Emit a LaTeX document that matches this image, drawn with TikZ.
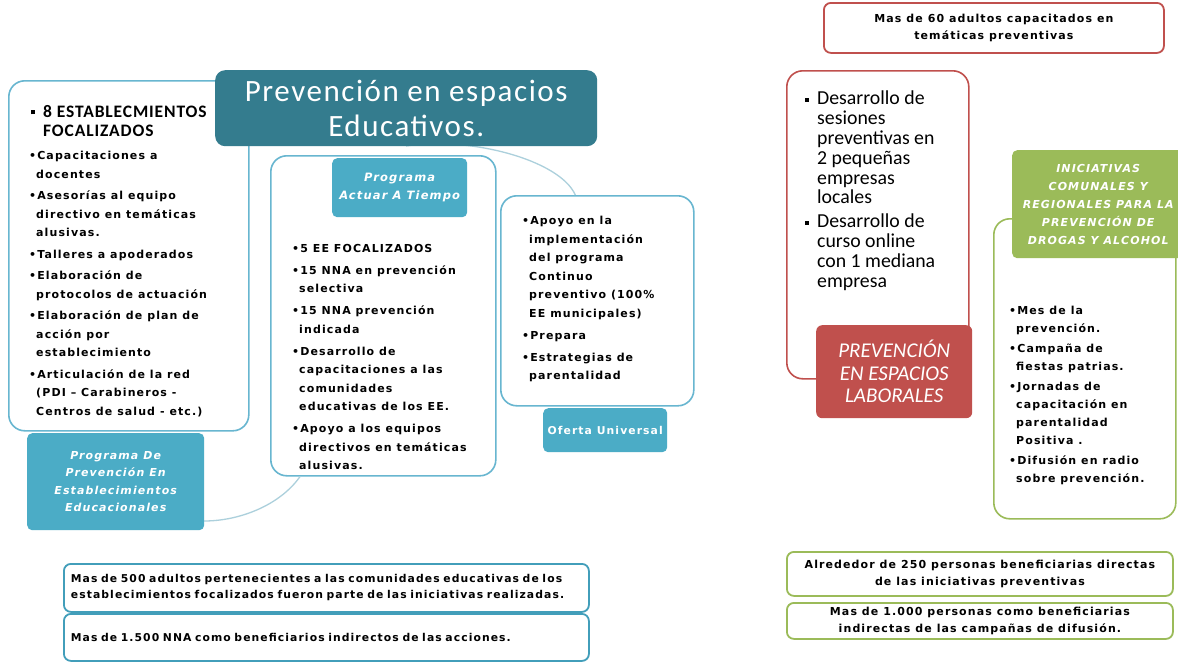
\documentclass[tikz,border=0pt]{standalone}
\usepackage{fontspec}
\setmainfont{Carlito}
\newfontfamily\smallfont[LetterSpace=10]{DejaVu Sans}
\newfontfamily\widefont[LetterSpace=5]{Carlito}

\usetikzlibrary{positioning}

\definecolor{titleteal}{RGB}{52,124,142}
\definecolor{skyblue}{RGB}{75,172,198}
\definecolor{noteblue}{RGB}{66,158,186}
\definecolor{frameblue}{RGB}{104,182,208}
\definecolor{linkblue}{RGB}{172,208,220}
\definecolor{brickred}{RGB}{192,80,77}
\definecolor{olivegreen}{RGB}{155,187,89}

\newcommand{\dotb}{\textbullet}
\newcommand{\ind}{\phantom{\textbullet}}
\newcommand{\sqb}{\raisebox{3pt}{\rule{4pt}{4pt}}\hspace{8pt}}

\tikzset{
  panel/.style={draw=frameblue, line width=1.6pt, rounded corners=16pt, inner sep=0pt, anchor=north west},
  tag/.style={fill=skyblue, rounded corners=5pt, text=white, align=center, inner sep=0pt, anchor=north west,
    font={\smallfont\bfseries\itshape\fontsize{11}{17.5}\selectfont}},
  items/.style={anchor=north west, align=left, inner sep=0pt,
    font={\smallfont\bfseries\fontsize{11}{18.5}\selectfont}},
  note/.style={draw=#1, line width=1.8pt, rounded corners=7pt, inner sep=0pt, anchor=north west, align=center,
    font={\smallfont\bfseries\fontsize{11}{17}\selectfont}},
  link/.style={draw=linkblue, line width=1.3pt}
}

\begin{document}
\begin{tikzpicture}[x=1pt,y=-1pt]
\useasboundingbox[fill=white] (0,0) rectangle (1178,662);

% educational side
\node[panel, minimum width=240pt, minimum height=350pt] (estabPanel) at (8,80) {};
\node[panel, minimum width=225pt, minimum height=320pt] (actuarPanel) at (270,155) {};
\node[panel, minimum width=193pt, minimum height=210pt] (ofertaPanel) at (500,195) {};

\draw[link] (406,146) .. controls (470,136) and (560,160) .. ([xshift=-22pt]ofertaPanel.north);
\draw[link] (204,521) .. controls (240,521) and (280,505) .. ([xshift=30pt]actuarPanel.south west);

\node[fill=titleteal, rounded corners=10pt, text=white, align=center, inner sep=0pt, anchor=north west,
  minimum width=382pt, minimum height=76pt, font={\widefont\fontsize{31}{35}\selectfont}] (title) at (215,70)
  {Prevención en espacios\\Educativos.};

\node[anchor=north west, align=left, inner sep=0pt, font={\widefont\bfseries\fontsize{17.5}{19}\selectfont}] (estabHead) at (31,105)
  {\sqb 8 ESTABLECMIENTOS\\\hspace{12pt}FOCALIZADOS};
\node[items] (estabList) at (29,151)
  {\dotb Capacitaciones a\\ \ind docentes\\[3pt]
   \dotb Asesorías al equipo\\ \ind directivo en temáticas\\ \ind alusivas.\\[3pt]
   \dotb Talleres a apoderados\\[3pt]
   \dotb Elaboración de\\ \ind protocolos de actuación\\[3pt]
   \dotb Elaboración de plan de\\ \ind acción por\\ \ind establecimiento\\[3pt]
   \dotb Articulación de la red\\ \ind (PDI – Carabineros -\\ \ind Centros de salud - etc.)};
\node[tag, minimum width=177pt, minimum height=97pt] (preventTag) at (27,433)
  {Programa De\\Prevención En\\Establecimientos\\Educacionales};

\node[tag, minimum width=135pt, minimum height=59pt, font={\smallfont\bfseries\itshape\fontsize{11.5}{18}\selectfont}] (actuarTag) at (332,158)
  {Programa\\Actuar A Tiempo};
\node[items] (actuarList) at (292,244)
  {\dotb 5 EE FOCALIZADOS\\[3.5pt]
   \dotb 15 NNA en prevención\\ \ind selectiva\\[3.5pt]
   \dotb 15 NNA prevención\\ \ind indicada\\[3.5pt]
   \dotb Desarrollo de\\ \ind capacitaciones a las\\ \ind comunidades\\ \ind educativas de los EE.\\[3.5pt]
   \dotb Apoyo a los equipos\\ \ind directivos en temáticas\\ \ind alusivas.};

\node[items] (ofertaList) at (522,216)
  {\dotb Apoyo en la\\ \ind implementación\\ \ind del programa\\ \ind Continuo\\ \ind preventivo (100\%\\ \ind EE municipales)\\[3.5pt]
   \dotb Prepara\\[3.5pt]
   \dotb Estrategias de\\ \ind parentalidad};
\node[tag, minimum width=124pt, minimum height=44pt, font={\smallfont\bfseries\fontsize{10.8}{17}\selectfont}] (ofertaTag) at (543,408)
  {Oferta Universal};

\node[note=noteblue, minimum width=525pt, minimum height=48pt, text width=511pt, align=left,
  font={\smallfont\bfseries\fontsize{10.8}{16}\selectfont}] (adultNote) at (63,563)
  {Mas de 500 adultos pertenecientes a las comunidades educativas de los\\establecimientos focalizados fueron parte de las iniciativas realizadas.};
\node[note=noteblue, minimum width=525pt, minimum height=47pt, text width=511pt, align=left,
  font={\smallfont\bfseries\fontsize{10.8}{16}\selectfont}] (nnaNote) at (63,613)
  {Mas de 1.500 NNA como beneficiarios indirectos de las acciones.};

% labour side
\node[note=brickred, minimum width=340pt, minimum height=50pt] (laborNote) at (823,2)
  {Mas de 60 adultos capacitados en\\temáticas preventivas};
\node[panel, draw=brickred, minimum width=182pt, minimum height=308pt] (laborPanel) at (786,70) {};
\node[anchor=north west, align=left, inner sep=0pt, font={\fontsize{19.8}{19.8}\selectfont}] (laborList) at (805,91)
  {\sqb Desarrollo de\\\hspace{12pt}sesiones\\\hspace{12pt}preventivas en\\\hspace{12pt}2 pequeñas\\\hspace{12pt}empresas\\\hspace{12pt}locales\\[4pt]
   \sqb Desarrollo de\\\hspace{12pt}curso online\\\hspace{12pt}con 1 mediana\\\hspace{12pt}empresa};
\node[fill=brickred, rounded corners=6pt, text=white, align=center, inner sep=0pt, anchor=north west,
  minimum width=156pt, minimum height=93pt, font={\itshape\fontsize{21}{22.5}\selectfont}] (laborTag) at (816,325)
  {PREVENCIÓN\\EN ESPACIOS\\LABORALES};

% community side
\node[panel, draw=olivegreen, minimum width=182pt, minimum height=300pt] (comunaPanel) at (993,218) {};
\node[tag, fill=olivegreen, minimum width=172pt, minimum height=108pt,
  font={\smallfont\bfseries\itshape\fontsize{11}{18}\selectfont}] (comunaTag) at (1012,150)
  {INICIATIVAS\\COMUNALES Y\\REGIONALES PARA LA\\PREVENCIÓN DE\\DROGAS Y ALCOHOL};
\node[items, font={\smallfont\bfseries\fontsize{11}{18}\selectfont}] (comunaList) at (1009,306)
  {\dotb Mes de la\\ \ind prevención.\\[2pt]
   \dotb Campaña de\\ \ind fiestas patrias.\\[2pt]
   \dotb Jornadas de\\ \ind capacitación en\\ \ind parentalidad\\ \ind Positiva .\\[2pt]
   \dotb Difusión en radio\\ \ind sobre prevención.};

\node[note=olivegreen, minimum width=386pt, minimum height=44pt] (directNote) at (786,551)
  {Alrededor de 250 personas beneficiarias directas\\de las iniciativas preventivas};
\node[note=olivegreen, minimum width=386pt, minimum height=36pt] (indirectNote) at (786,602)
  {Mas de 1.000 personas como beneficiarias\\indirectas de las campañas de difusión.};
\end{tikzpicture}
\end{document}
